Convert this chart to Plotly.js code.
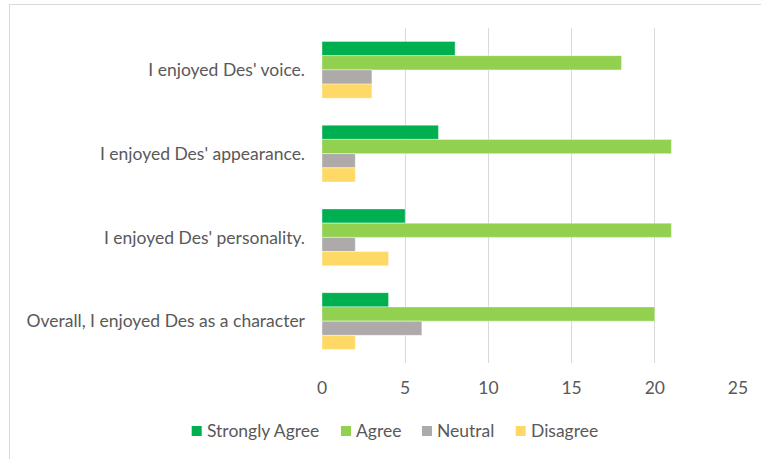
<!DOCTYPE html>
<html>
<head>
<meta charset="utf-8">
<script src="https://cdn.plot.ly/plotly-3.0.1.min.js"></script>
<style>
  html, body { margin: 0; padding: 0; background: #fff; }
  #wrap { position: relative; width: 761px; height: 459px; overflow: hidden; }
  #chart { width: 761px; height: 459px; }
  #frame { position: absolute; left: 9px; top: 4px; width: 820px; height: 520px;
           border: 1.5px solid #d9d9d9; pointer-events: none; box-sizing: border-box; }
</style>
</head>
<body>
<div id="wrap">
  <div id="chart"></div>
  <div id="frame"></div>
</div>
<script>
const categories = [
  "I enjoyed Des' voice.",
  "I enjoyed Des' appearance.",
  "I enjoyed Des' personality.",
  "Overall, I enjoyed Des as a character"
];
const stronglyAgree = [8, 7, 5, 4];
const agree = [18, 21, 21, 20];
const neutral = [3, 2, 2, 6];
const disagree = [3, 2, 4, 2];
const seriesNames = ["Strongly Agree", "Agree", "Neutral", "Disagree"];
const xTicks = [0, 5, 10, 15, 20, 25];

const colors = ["#00b050", "#92d050", "#aeaaaa", "#ffd966"];
const seriesData = [stronglyAgree, agree, neutral, disagree];

const traces = seriesData.map((vals, i) => ({
  type: "bar",
  orientation: "h",
  name: seriesNames[i],
  y: categories,
  x: vals,
  marker: { color: colors[i], line: { color: "rgba(255,255,255,0.5)", width: 0.8 } },
  hoverinfo: "x+name",
  showlegend: false
}));

// layout geometry (pixels)
const M = { l: 322, r: 23, t: 28, b: 96 };
const W = 761, H = 459;
const pw = W - M.l - M.r, ph = H - M.t - M.b;
const px2x = p => (p - M.l) / pw;
const px2y = p => (H - M.b - p) / ph;

// custom legend placement (left edge of each swatch, in px)
const swatchLeft = [191.7, 341, 422, 515.7];
const swatchSize = 10;
const legendY = 431;
const font = "Lato, 'Open Sans', sans-serif";

const shapes = [], annotations = [];
seriesNames.forEach((name, i) => {
  shapes.push({
    type: "rect", xref: "paper", yref: "paper",
    x0: px2x(swatchLeft[i]), x1: px2x(swatchLeft[i] + swatchSize),
    y0: px2y(legendY + swatchSize / 2), y1: px2y(legendY - swatchSize / 2),
    fillcolor: colors[i], line: { width: 0 }
  });
  annotations.push({
    xref: "paper", yref: "paper",
    x: px2x(swatchLeft[i] + swatchSize + 3), y: px2y(legendY),
    xanchor: "left", yanchor: "middle",
    text: name, showarrow: false,
    font: { family: font, size: 17.5, color: "#595959" }
  });
});

const layout = {
  width: W, height: H,
  margin: { l: M.l, r: M.r, t: M.t, b: M.b, autoexpand: false },
  paper_bgcolor: "#ffffff",
  plot_bgcolor: "#ffffff",
  barmode: "group",
  bargap: 0.32,
  bargroupgap: 0,
  font: { family: font, size: 17.5, color: "#595959" },
  xaxis: {
    range: [0, 25],
    tickvals: xTicks,
    ticktext: xTicks.map(String),
    showgrid: true,
    gridcolor: "#d9d9d9",
    gridwidth: 1,
    zeroline: false,
    showline: false,
    ticks: "",
    automargin: false,
    ticklabelstandoff: 12,
    tickfont: { family: font, size: 17.5, color: "#595959" }
  },
  yaxis: {
    type: "category",
    autorange: "reversed",
    showgrid: false,
    zeroline: false,
    showline: false,
    ticks: "",
    automargin: false,
    ticklabelstandoff: 16,
    tickfont: { family: font, size: 17.5, color: "#595959" }
  },
  shapes: shapes,
  annotations: annotations,
  showlegend: false
};

Plotly.newPlot("chart", traces, layout, { displayModeBar: false, staticPlot: true });
</script>
</body>
</html>
